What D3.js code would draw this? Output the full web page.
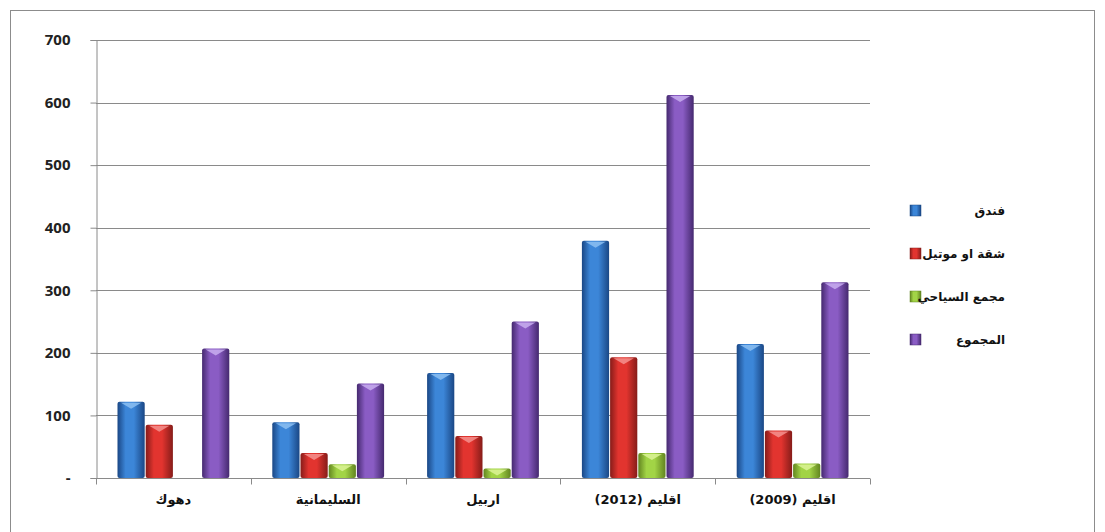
<!DOCTYPE html>
<html>
  <head>
    <meta charset="utf-8" />
    <script src="https://d3js.org/d3.v7.min.js"></script>
    <style>
      body { margin: 0; background: #fff; }
    </style>
  </head>
  <body>
    <div id="chart"></div>
    <script>
      // data
      var categories = ["دهوك", "السليمانية", "اربيل", "اقليم  (2012)", "اقليم (2009)"];
      var seriesNames = ["فندق", "شقة او موتيل", "مجمع السياحي", "المجموع"];
      var hotel = [122, 89, 168, 379, 214];
      var apartment = [85, 40, 67, 193, 76];
      var complexes = [0, 22, 15, 40, 23];
      var total = [207, 151, 250, 612, 313];
      var yTicks = [0, 100, 200, 300, 400, 500, 600, 700];

      var seriesValues = [hotel, apartment, complexes, total];
      var colors = [
        { edge: "#1a4785", mid: "#3c86d8", cap: "#8cc0f2" },
        { edge: "#861c19", mid: "#e2342f", cap: "#f4928e" },
        { edge: "#628520", mid: "#a2d446", cap: "#dcf396" },
        { edge: "#45296f", mid: "#8a5cc4", cap: "#c8aef0" }
      ];

      var width = 1105, height = 532;
      var margin = { left: 96, right: 235, top: 40, bottom: 54 };
      var plotW = width - margin.left - margin.right,
        plotH = height - margin.top - margin.bottom;

      var svg = d3.select("#chart").append("svg")
        .attr("width", width).attr("height", height);

      // outer frame
      svg.append("rect").attr("x", 10.5).attr("y", 10.5)
        .attr("width", 1084).attr("height", 540)
        .attr("fill", "none").attr("stroke", "#8c8c8c");

      var defs = svg.append("defs");
      colors.forEach(function (c, i) {
        var g = defs.append("linearGradient").attr("id", "grad" + i)
          .attr("x1", "0").attr("x2", "1").attr("y1", "0").attr("y2", "0");
        g.append("stop").attr("offset", "0%").attr("stop-color", c.edge);
        g.append("stop").attr("offset", "30%").attr("stop-color", c.mid);
        g.append("stop").attr("offset", "60%").attr("stop-color", c.mid);
        g.append("stop").attr("offset", "100%").attr("stop-color", c.edge);
      });

      var x0 = d3.scaleBand().domain(d3.range(categories.length))
        .range([0, plotW]).padding(0);
      var x1 = d3.scaleBand().domain(d3.range(seriesNames.length))
        .range([21, x0.bandwidth() - 21]).padding(0);
      var y = d3.scaleLinear().domain([0, 700]).range([plotH, 0]);

      var g = svg.append("g")
        .attr("transform", "translate(" + margin.left + "," + margin.top + ")");

      // gridlines
      g.append("g").selectAll("line").data(yTicks.slice(1)).enter().append("line")
        .attr("x1", 0).attr("x2", plotW)
        .attr("y1", function (d) { return Math.round(y(d)) + 0.5; })
        .attr("y2", function (d) { return Math.round(y(d)) + 0.5; })
        .attr("stroke", "#8a8a8a").attr("stroke-width", 1);

      // bars
      var groups = g.selectAll(".grp").data(categories).enter().append("g")
        .attr("transform", function (d, i) { return "translate(" + x0(i) + ",0)"; });

      groups.each(function (cat, ci) {
        var grp = d3.select(this);
        seriesValues.forEach(function (vals, si) {
          var v = vals[ci];
          if (!v) return;
          var bx = x1(si), bw = x1.bandwidth(), by = y(v), bh = plotH - y(v);
          grp.append("rect")
            .attr("x", bx + 0.5).attr("y", by).attr("width", bw - 1).attr("height", bh)
            .attr("rx", 2)
            .attr("fill", "url(#grad" + si + ")");
          // small top highlight
          var capH = Math.min(7, bh);
          grp.append("path")
            .attr("d", "M" + (bx + 4) + "," + (by + 1) + " L" + (bx + bw - 4) + "," + (by + 1) +
              " L" + (bx + bw / 2) + "," + (by + capH) + " Z")
            .attr("fill", colors[si].cap).attr("opacity", 0.85);
        });
      });

      // y axis
      var yAxis = d3.axisLeft(y).tickValues(yTicks).tickSize(6).tickPadding(20)
        .tickFormat(function (d) { return d === 0 ? "-" : d; });
      var ya = g.append("g").attr("transform", "translate(0.5,0)").call(yAxis);
      ya.select(".domain").attr("stroke", "#8a8a8a");
      ya.selectAll(".tick line").attr("stroke", "#8a8a8a");
      ya.selectAll("text").attr("fill", "#222")
        .style("font-family", "Open Sans, Liberation Sans, sans-serif")
        .style("font-weight", "bold").style("font-size", "15px");

      // x axis with ticks at category boundaries
      var xa = g.append("g").attr("transform", "translate(0," + (plotH + 0.5) + ")");
      xa.append("line").attr("x1", 0).attr("x2", plotW)
        .attr("stroke", "#8a8a8a");
      xa.selectAll(".sep").data(d3.range(categories.length + 1)).enter().append("line")
        .attr("x1", function (d) { return Math.round(d * x0.step()) + 0.5; })
        .attr("x2", function (d) { return Math.round(d * x0.step()) + 0.5; })
        .attr("y1", 0).attr("y2", 6).attr("stroke", "#8a8a8a");
      xa.selectAll(".lbl").data(categories).enter().append("text")
        .attr("x", function (d, i) { return x0(i) + x0.bandwidth() / 2; })
        .attr("y", 25)
        .attr("text-anchor", "middle")
        .attr("direction", "rtl")
        .style("font-family", "DejaVu Sans, sans-serif")
        .style("font-weight", "bold").style("font-size", "13px")
        .attr("fill", "#111")
        .text(function (d) { return d; });

      // legend
      var legend = svg.append("g");
      var items = legend.selectAll("g").data(seriesNames).enter().append("g")
        .attr("transform", function (d, i) { return "translate(0," + (210 + i * 43) + ")"; });
      items.append("rect").attr("x", 910).attr("y", -5).attr("width", 11).attr("height", 11)
        .attr("fill", function (d, i) { return "url(#grad" + i + ")"; })
        .attr("stroke", function (d, i) { return colors[i].edge; }).attr("stroke-width", 0.5);
      items.append("text").attr("x", 1005).attr("y", 5)
        .attr("text-anchor", "start").attr("direction", "rtl")
        .style("font-family", "DejaVu Sans, sans-serif")
        .style("font-weight", "bold").style("font-size", "12px")
        .attr("fill", "#111")
        .text(function (d) { return d; });
    </script>
  </body>
</html>
